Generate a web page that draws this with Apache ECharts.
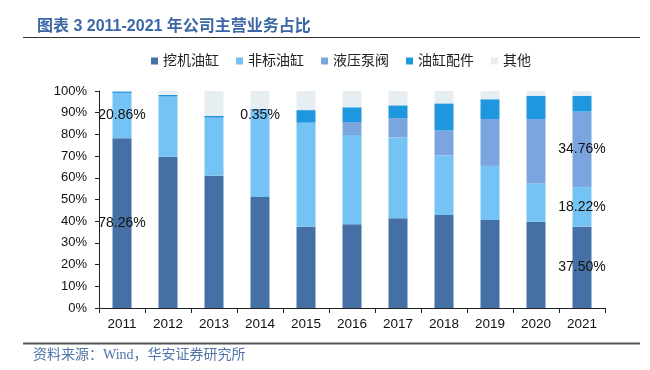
<!DOCTYPE html>
<html><head><meta charset="utf-8">
<script src="https://cdn.jsdelivr.net/npm/echarts@6/dist/echarts.min.js"></script>
<style>html,body{margin:0;padding:0;background:#fff}#c{width:650px;height:370px}</style>
</head><body><div id="c"></div>
<script>
var categories = ['2011','2012','2013','2014','2015','2016','2017','2018','2019','2020','2021'];
var seriesNames = ['挖机油缸','非标油缸','液压泵阀','油缸配件','其他'];
var excavator = [78.26, 69.7, 60.9, 51.2, 37.4, 38.6, 41.4, 42.9, 40.5, 39.7, 37.50];
var nonStandard = [20.86, 27.7, 26.8, 39.5, 48.0, 41.1, 37.2, 27.4, 25.0, 17.7, 18.22];
var pumpValve = [0, 0, 0, 0.35, 0, 6.0, 8.9, 11.5, 21.6, 29.7, 34.76];
var parts = [0.7, 0.8, 0.8, 0.6, 5.8, 6.8, 5.9, 12.5, 9.1, 10.7, 7.3];
var others = [0.18, 1.8, 11.5, 8.35, 8.8, 7.5, 6.6, 5.7, 3.8, 2.2, 2.22];
var yTicks = [0,10,20,30,40,50,60,70,80,90,100];
var labeled = [[0,10],[0,10],[3,10],[],[]];
var colors = ['#4570A5','#75C3F4','#7BA5DE','#1E97DF','#E6EEF1'];
var allData = [excavator, nonStandard, pumpValve, parts, others];

var FONT = "'Liberation Sans','Noto Sans CJK SC',sans-serif";
var chart = echarts.init(document.getElementById('c'), null, {renderer:'canvas'});
var series = allData.map(function(arr, si){
  return {
    name: seriesNames[si], type:'bar', stack:'total', barWidth:19,
    itemStyle:{color:colors[si]},
    label:{show:false, position:'inside', color:'#111', fontSize:14, fontFamily:FONT,
      formatter:function(p){return p.value.toFixed(2)+'%';}},
    data: arr.map(function(v,i){
      var d = {value:v};
      if (labeled[si].indexOf(i) >= 0) {
        d.label = {show:true};
        if (si === 2 && i === 3) d.label.offset = [0,4];
      }
      return d;
    })
  };
});
chart.setOption({
  animation:false,
  title:{text:'图表 3 2011-2021 年公司主营业务占比', left:32, top:14,
    textStyle:{fontSize:16, fontWeight:'bold', color:'#3B67A6', fontFamily:FONT}},
  legend:{data:seriesNames, left:146, top:49, itemWidth:7, itemHeight:7, icon:'rect', itemGap:17,
    textStyle:{fontSize:14, color:'#222', fontFamily:FONT}},
  grid:{left:99, right:45, top:91, bottom:62},
  xAxis:{type:'category', data:categories,
    axisLine:{lineStyle:{color:'#222', width:1}},
    axisTick:{show:true, length:5, lineStyle:{color:'#222'}},
    axisLabel:{fontSize:13.5, color:'#111', margin:10, fontFamily:FONT}},
  yAxis:{type:'value', min:0, max:100, interval:10,
    axisLine:{show:true, lineStyle:{color:'#222', width:1}},
    axisTick:{show:true, length:4, lineStyle:{color:'#222'}},
    splitLine:{show:false},
    axisLabel:{fontSize:13, color:'#111', margin:12, fontFamily:FONT,
      formatter:function(v){return yTicks.indexOf(v)>=0 ? v+'%' : '';}}},
  graphic:[
    {type:'line', shape:{x1:23,y1:37.5,x2:640,y2:37.5}, style:{stroke:'#333', lineWidth:1.2}},
    {type:'line', shape:{x1:23,y1:343.5,x2:640,y2:343.5}, style:{stroke:'#555', lineWidth:1.8}},
    {type:'text', left:33, top:348, style:{text:'资料来源：Wind，华安证券研究所', fill:'#4F74A8',
      font:"14px 'Liberation Serif','Noto Sans CJK SC',serif"}}
  ],
  series:series
});
</script></body></html>
